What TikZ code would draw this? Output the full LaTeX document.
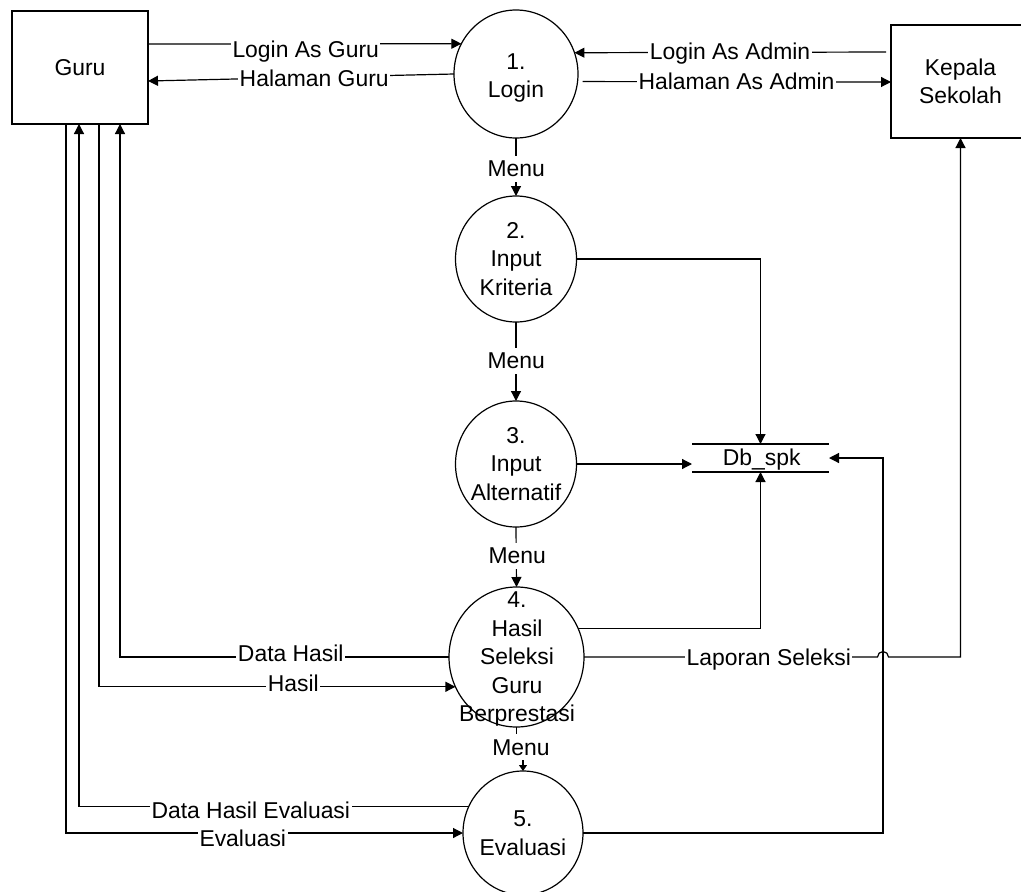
\documentclass[tikz,border=0pt]{standalone}
\usepackage{fontspec}
\setmainfont{Liberation Sans}
\usetikzlibrary{shapes.geometric,arrows.meta}

\begin{document}
\begin{tikzpicture}[x=1pt,y=-1pt,line width=1.2pt,
  every node/.style={font=\fontsize{22.9}{28.5}\selectfont},
  ent/.style={draw,rectangle,inner sep=0pt,outer sep=0pt,align=center},
  proc/.style={draw,ellipse,inner sep=0pt,outer sep=0pt},
  ptext/.style={align=center,inner sep=0pt},
  arr/.style={-{Triangle[length=10pt,width=10pt]}},
  arrs/.style={-{Triangle[length=6pt,width=8pt]}},
  lbl/.style={fill=white,anchor=base,inner xsep=1.5pt,inner ysep=2pt},
  vlbl/.style={fill=white,anchor=base,inner xsep=1pt,inner ysep=5pt},
]
\useasboundingbox (0,0) rectangle (1021,892);
\clip (0,0) rectangle (1021,892);

% external entities
\node[ent,minimum width=136pt,minimum height=113pt] (guru) at (80,67.5) {Guru};
\node[ent,minimum width=139pt,minimum height=113pt] (kep) at (960.5,81.5) {Kepala\\Sekolah};

% processes
\node[proc,minimum width=124pt,minimum height=128pt] (c1) at (516,74) {};
\node[proc,minimum width=121pt,minimum height=126pt] (c2) at (516,259) {};
\node[proc,minimum width=121pt,minimum height=126pt] (c3) at (516,464) {};
\node[proc,minimum width=135pt,minimum height=140pt] (c4) at (516.5,657) {};
\node[proc,minimum width=120pt,minimum height=124pt] (c5) at (523,833) {};

\node[ptext] (t1) at (516,78.2) {1.\\Login};
\node[ptext] (t2) at (516,259) {2.\\Input\\Kriteria};
\node[ptext] (t3) at (516,464) {3.\\Input\\Alternatif};
\node[ptext] (t4) at (517,659.1) {4.\\Hasil\\Seleksi\\Guru\\Berprestasi};
\node[ptext] (t5) at (523,833) {5.\\Evaluasi};

% data store
\node[inner sep=0pt,outer sep=0pt,minimum width=137pt,minimum height=28pt] (db) at (760.5,458) {};
\draw (db.north west) -- (db.north east);
\draw (db.south west) -- (db.south east);
\node[anchor=base,inner sep=0pt] (dbt) at (761.7,465.7) {Db\_spk};

% login flows
\draw[arr] (guru.east |- 0,44) -- (c1.151.3);
\draw[arr] (c1.west) -- (guru.east |- 0,81);
\draw[arr,shorten <=5pt] (kep.west |- 0,52) -- (c1.20.7);
\draw[arr,shorten <=5pt] (c1.-7.4) -- (kep.west |- 0,82);

% menu chain
\draw[arr] (c1.south) -- (c2.north);
\draw[arr] (c2.south) -- (c3.north);
\draw[arr] (c3.south) -- (c4.north);
\draw (c4.south) -- ++(0,7);
\draw[arrs] ([yshift=11pt]c5.north) -- (c5.north);

% data store flows
\draw[arr] (c2.east) -| (db.north);
\draw[arr] (c3.east) -- (db.west |- c3.east);
\draw[arr] (c4.25.3) -| (db.south);
\draw[arr] (c5.east) -| ([xshift=54pt]db.east) -- (db.east);

% report to head of school, hopping over the store line
\coordinate (hop) at (877.5,657);
\draw[arr] (c4.east) -- (hop) arc (180:360:5.5) -- (kep.south |- c4.east) -- (kep.south);

% flows with Guru
\draw[arr] (c4.west) -| ([xshift=40pt]guru.south);
\draw[arr] ([xshift=19pt]guru.south) |- (c4.206.2);
\draw[arr] (c5.154.5) -| ([xshift=-1pt]guru.south);
\draw[arr] ([xshift=-14pt]guru.south) |- (c5.west);

% flow labels
\node[lbl] (lLG) at (305.7,57.3) {Login As Guru};
\node[lbl] (lHG) at (314.2,86.5) {Halaman Guru};
\node[lbl] (lLA) at (730,59.3) {Login As Admin};
\node[lbl] (lHA) at (736.5,89) {Halaman As Admin};
\node[lbl] (lDH) at (290.8,661.7) {Data Hasil};
\node[lbl] (lH) at (293.3,691.7) {Hasil};
\node[lbl] (lLS) at (768.8,665.7) {Laporan Seleksi};
\node[lbl] (lDHE) at (250.8,818.3) {Data Hasil Evaluasi};
\node[lbl] (lEv) at (242.8,846.7) {Evaluasi};

\node[vlbl] (m1) at (516.3,176.7) {Menu};
\node[vlbl] (m2) at (516.2,368.3) {Menu};
\node[vlbl] (m3) at (517.2,563.3) {Menu};
\node[anchor=base,inner sep=0pt] (m4) at (521,755.7) {Menu};
\end{tikzpicture}
\end{document}
